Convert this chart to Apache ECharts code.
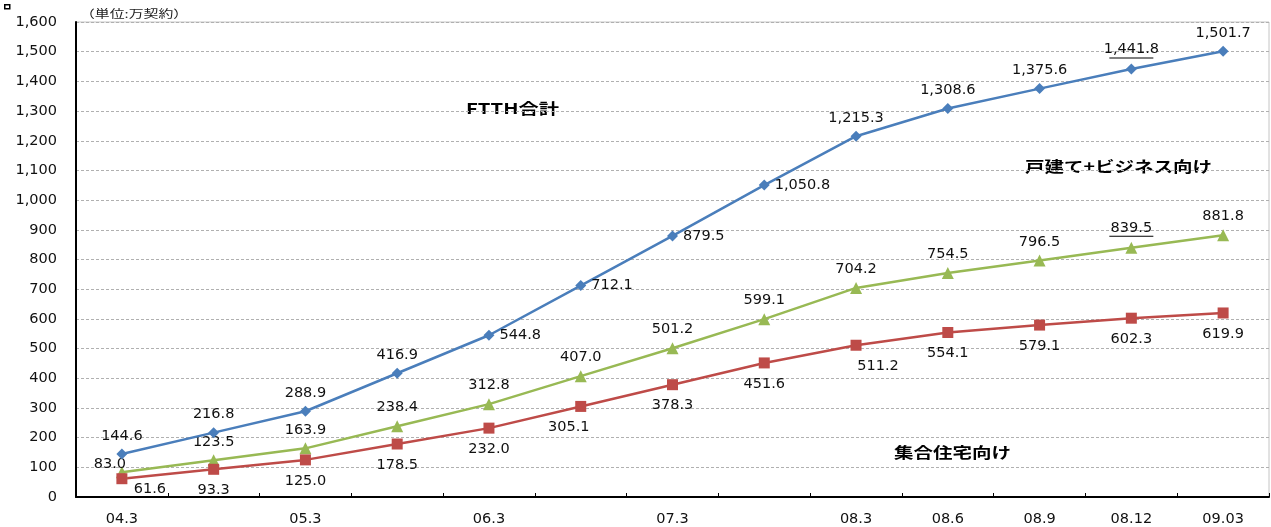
<!DOCTYPE html>
<html><head><meta charset="utf-8">
<script src="https://cdn.jsdelivr.net/npm/echarts@6/dist/echarts.min.js"></script>
<style>html,body{margin:0;padding:0;background:#fff}#c{width:1271px;height:527px}</style>
</head><body><div id="c"></div>
<script>
const categories = ['04.3','04.9','05.3','05.9','06.3','06.9','07.3','07.9','08.3','08.6','08.9','08.12','09.03'];
const tickLabels = ['04.3','','05.3','','06.3','','07.3','','08.3','08.6','08.9','08.12','09.03'];
const ftthTotal = [144.6,216.8,288.9,416.9,544.8,712.1,879.5,1050.8,1215.3,1308.6,1375.6,1441.8,1501.7];
const detachedBusiness = [83.0,123.5,163.9,238.4,312.8,407.0,501.2,599.1,704.2,754.5,796.5,839.5,881.8];
const apartments = [61.6,93.3,125.0,178.5,232.0,305.1,378.3,451.6,511.2,554.1,579.1,602.3,619.9];
const yTicks = [0,100,200,300,400,500,600,700,800,900,1000,1100,1200,1300,1400,1500,1600];

const ftthPos = ['top','top','top','top','right','right','right','right','top','top','top','top','top'];
const underlined = [false,false,false,false,false,false,false,false,false,false,false,true,false];
const greenUnderlined = [false,false,false,false,false,false,false,false,false,false,false,true,false];
const greenOffset = [[-12,10],null,null,null,null,null,null,null,null,null,null,null,null];
const aptOffset = [[28,-10],null,null,null,null,[-12,0],null,null,[22,0],null,null,null,null];

const fmt = v => v.toLocaleString('en-US',{minimumFractionDigits:1,maximumFractionDigits:1});
const font = 'DejaVu Sans';
const lblStyle = {color:'#111', fontSize:14.5, fontFamily:font};
const jp = 'Noto Sans CJK JP';
const rich = {t:{color:'#111',fontSize:14.5,fontFamily:font,lineHeight:16},ln:{width:44,height:1,backgroundColor:'#000',lineHeight:1}};
const ulFmt = flags => p => flags[p.dataIndex] ? '{t|' + fmt(p.value) + '}\n{ln|}' : fmt(p.value);

const chart = echarts.init(document.getElementById('c'));
chart.setOption({
  animation:false,
  backgroundColor:'#fff',
  grid:{left:76,right:2,top:22,bottom:27,show:true,borderColor:'#c4c4c4',borderWidth:1},
  xAxis:{type:'category',data:categories,boundaryGap:true,
    axisLine:{lineStyle:{color:'#000',width:2}},
    axisTick:{show:true,inside:true,length:4,lineStyle:{color:'#000',width:1}},
    axisLabel:{formatter:(v,i)=>tickLabels[i],interval:0,margin:15,color:'#111',fontSize:14.5,fontFamily:font}},
  yAxis:{type:'value',min:yTicks[0],max:yTicks[yTicks.length-1],interval:100,
    axisLine:{show:true,lineStyle:{color:'#000',width:2}},
    axisTick:{show:false},
    axisLabel:{margin:19,color:'#111',fontSize:14.5,fontFamily:font,formatter:v=>v.toLocaleString('en-US')},
    splitLine:{lineStyle:{color:'#b0b0b0',type:[3,2],width:1}}},
  series:[
    {name:'FTTH合計',type:'line',data:ftthTotal.map((v,i)=>({value:v,label:{position:ftthPos[i]}})),
     symbol:'diamond',symbolSize:11,lineStyle:{width:2.5,color:'#4A7EBB'},itemStyle:{color:'#4A7EBB'},
     label:{show:true,distance:5,formatter:ulFmt(underlined),rich:rich,...lblStyle},z:3},
    {name:'戸建て+ビジネス向け',type:'line',data:detachedBusiness.map((v,i)=>({value:v,label:greenOffset[i]?{offset:greenOffset[i]}:{}})),
     symbol:'triangle',symbolSize:12,lineStyle:{width:2.5,color:'#98B954'},itemStyle:{color:'#98B954'},
     label:{show:true,position:'top',distance:5,formatter:ulFmt(greenUnderlined),rich:rich,...lblStyle},z:2},
    {name:'集合住宅向け',type:'line',data:apartments.map((v,i)=>({value:v,label:aptOffset[i]?{offset:aptOffset[i]}:{}})),
     symbol:'rect',symbolSize:11,lineStyle:{width:2.5,color:'#BE4B48'},itemStyle:{color:'#BE4B48'},
     label:{show:true,position:'bottom',distance:8,formatter:p=>fmt(p.value),...lblStyle},z:2}
  ],
  graphic:[
    {type:'rect',left:4,top:4,shape:{width:5,height:4},style:{fill:'#fff',stroke:'#000',lineWidth:1.5}},
    {type:'text',x:80,y:8,scaleX:1.35,style:{text:'（単位:万契約）',fill:'#222',fontSize:11,fontFamily:jp}},
    {type:'text',x:466,y:101,scaleX:1.35,style:{text:'FTTH合計',fill:'#000',fontSize:15,fontWeight:'bold',fontFamily:jp}},
    {type:'text',x:1025,y:159,scaleX:1.3,style:{text:'戸建て+ビジネス向け',fill:'#000',fontSize:15,fontWeight:'bold',fontFamily:jp}},
    {type:'text',x:894,y:445,scaleX:1.3,style:{text:'集合住宅向け',fill:'#000',fontSize:15,fontWeight:'bold',fontFamily:jp}}
  ]
});
</script></body></html>
